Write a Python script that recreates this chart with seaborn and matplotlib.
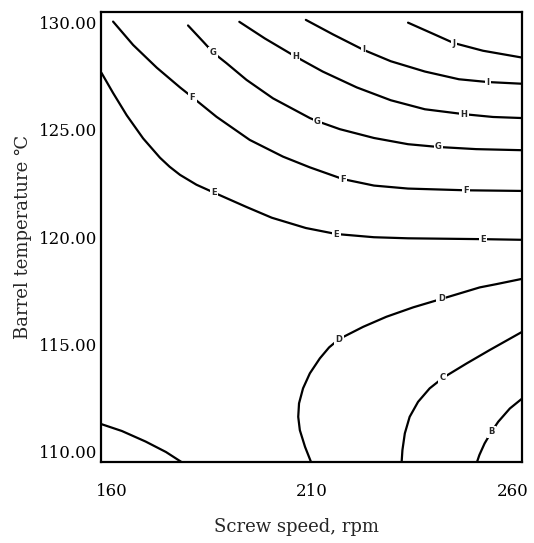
# Contour plot of response vs screw speed and barrel temperature
import matplotlib
matplotlib.use("Agg")
import matplotlib.pyplot as plt
import seaborn as sns

# contour levels: (screw speed rpm, barrel temp C)
levels = ["E", "F", "G", "H", "I", "J", "D", "C", "B", ""]

speed = {
    "E": [157.5, 160.4, 163.8, 167.9, 172.1, 174.5, 177.1, 181.2, 185.6, 193.7, 200.0, 208.5, 216.1, 225.5, 234.0, 252.7, 262.5],
    "F": [160.4, 165.4, 171.3, 177.1, 180.2, 186.2, 194.5, 202.8, 209.5, 217.8, 225.5, 234.0, 248.4, 262.5],
    "G": [179.1, 182.9, 185.4, 188.7, 193.7, 200.3, 209.5, 211.4, 217.0, 225.5, 234.0, 241.6, 251.0, 262.5],
    "H": [191.9, 198.3, 205.9, 212.7, 221.2, 229.7, 238.2, 248.0, 255.2, 262.5],
    "I": [208.5, 215.3, 222.9, 229.7, 238.2, 246.7, 253.9, 262.5],
    "J": [234.0, 239.9, 245.4, 252.7, 262.5],
    "D": [262.5, 256.0, 251.9, 242.3, 235.3, 228.6, 222.8, 216.8, 214.3, 212.0, 209.5, 207.8, 206.8, 206.6, 207.0, 208.3, 209.8],
    "C": [262.5, 254.4, 248.6, 242.7, 239.4, 236.5, 234.4, 233.2, 232.6, 232.4],
    "B": [262.5, 259.4, 256.5, 254.8, 253.1, 251.8, 251.2],
    "": [157.5, 162.6, 168.5, 173.6, 177.5],
}

temp = {
    "E": [127.66, 126.72, 125.68, 124.60, 123.70, 123.28, 122.90, 122.44, 122.07, 121.40, 120.90, 120.42, 120.14, 119.99, 119.94, 119.90, 119.87],
    "F": [130.05, 128.96, 127.90, 126.98, 126.52, 125.61, 124.53, 123.75, 123.25, 122.70, 122.40, 122.26, 122.18, 122.15],
    "G": [129.87, 129.11, 128.60, 128.11, 127.33, 126.47, 125.55, 125.40, 125.03, 124.62, 124.33, 124.20, 124.10, 124.05],
    "H": [130.04, 129.26, 128.42, 127.72, 126.98, 126.38, 125.96, 125.73, 125.60, 125.55],
    "I": [130.13, 129.45, 128.73, 128.20, 127.72, 127.36, 127.23, 127.15],
    "J": [130.0, 129.51, 129.05, 128.69, 128.37],
    "D": [118.05, 117.80, 117.65, 117.11, 116.72, 116.28, 115.81, 115.24, 114.85, 114.34, 113.64, 112.94, 112.24, 111.61, 110.99, 110.21, 109.5],
    "C": [115.58, 114.73, 114.10, 113.43, 112.94, 112.31, 111.61, 110.84, 110.06, 109.5],
    "B": [112.47, 112.00, 111.38, 110.91, 110.37, 109.83, 109.5],
    "": [111.27, 110.95, 110.46, 109.97, 109.5],
}

# which traced point carries the inline letter
label_at = {
    "E": [8, 12, 15], "F": [4, 9, 12], "G": [2, 7, 11], "H": [2, 7],
    "I": [2, 6], "J": [2], "D": [3, 7], "C": [3], "B": [3], "": [],
}

x_ticks = [160, 210, 260]
y_ticks = [110, 115, 120, 125, 130]

sns.set_style("white")
plt.rcParams["font.family"] = ["DejaVu Serif", "DejaVu Sans"]

fig, ax = plt.subplots(figsize=(5.34, 5.43), dpi=100)
fig.subplots_adjust(left=0.190, right=0.978, bottom=0.149, top=0.978)

for lev in levels:
    sns.lineplot(x=speed[lev], y=temp[lev], sort=False, estimator=None,
                 color="black", linewidth=1.6, solid_joinstyle="round", ax=ax)
    for i in label_at[lev]:
        ax.text(speed[lev][i], temp[lev][i], lev, ha="center", va="center",
                fontsize=6, fontweight="bold", family="DejaVu Sans",
                bbox=dict(facecolor="white", edgecolor="none", pad=1.0))

ax.set_xlim(157.5, 262.5)
ax.set_ylim(109.5, 130.5)
ax.set_xticks(x_ticks)
ax.set_xticklabels([str(v) for v in x_ticks])
ax.set_yticks(y_ticks)
ax.set_yticklabels([f"{v:.2f}" for v in y_ticks])
ax.tick_params(length=0, labelsize=12, colors="black")
ax.tick_params(axis="x", pad=15)
ax.tick_params(axis="y", pad=3)

for s in ax.spines.values():
    s.set_color("black")
    s.set_linewidth(1.6)

ax.set_xlabel("Screw speed, rpm", fontsize=13, labelpad=13)
ax.xaxis.label.set_x(0.464)
ax.set_ylabel("Barrel temperature ℃", fontsize=13, labelpad=5)

fig.savefig("out.png", dpi=100)
